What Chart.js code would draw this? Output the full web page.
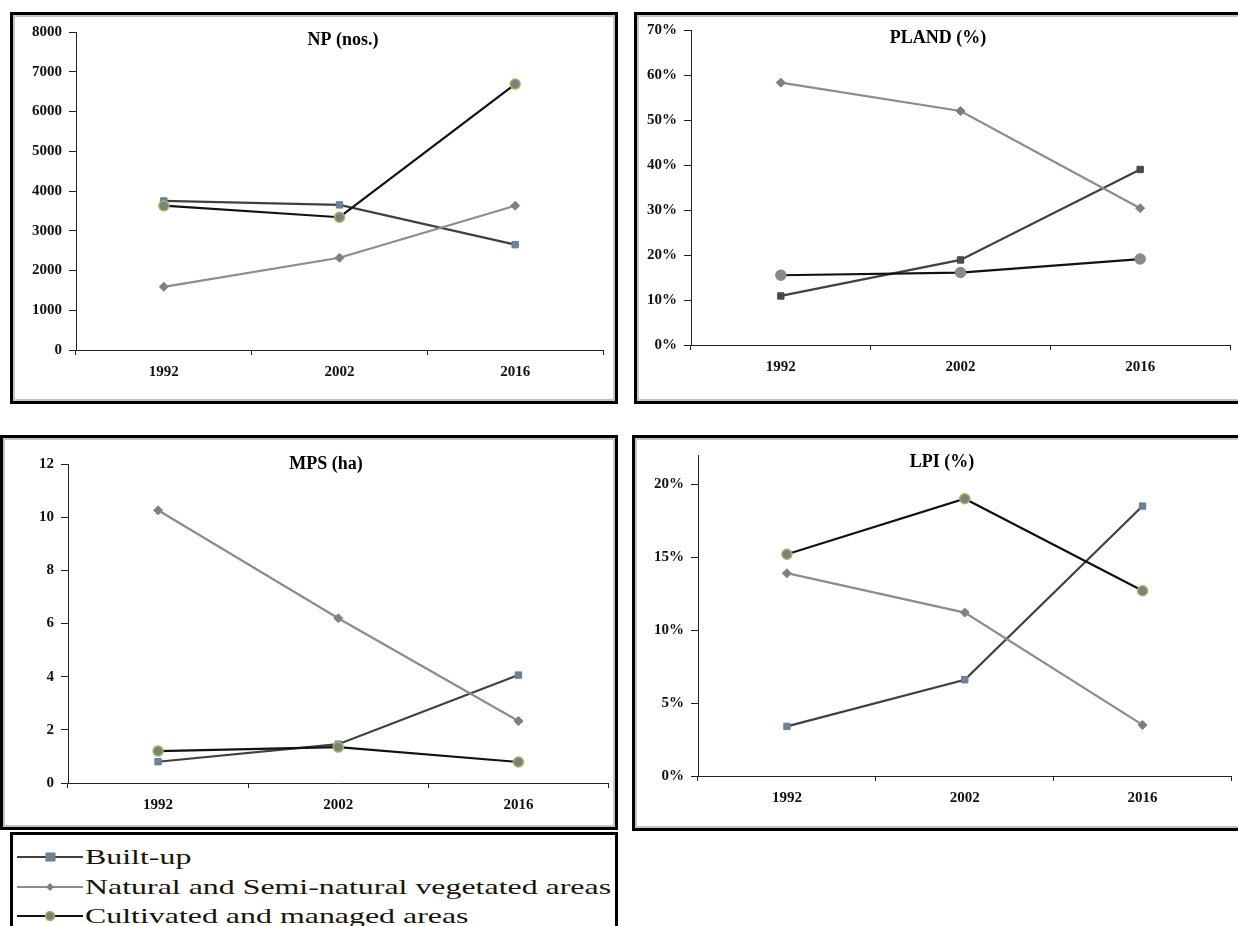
<!DOCTYPE html>
<html>
<head>
<meta charset="utf-8">
<script src="https://cdn.jsdelivr.net/npm/chart.js@4.4.1/dist/chart.umd.min.js"></script>
<style>
  body { margin: 0; background: #fff; width: 1238px; height: 926px; overflow: hidden; position: relative; }
  .panel { position: absolute; box-sizing: border-box; border: 3px solid #000; box-shadow: inset 0 0 0 2px #c4c4c4; pointer-events: none; }
  canvas { position: absolute; }
  #legendBox { position: absolute; left: 10px; top: 832px; width: 608px; height: 110px; box-sizing: border-box;
    border: 3px solid #000; border-bottom: none; }
  .row { position: absolute; left: 4px; height: 26px; display: flex; align-items: center; }
  .row svg { flex: none; }
  .row span { font-family: "Liberation Serif", serif; font-size: 22px; color: #1a1408; white-space: nowrap;
    display: inline-block; transform: scaleX(1.45); transform-origin: left center; margin-left: 2px; }
</style>
</head>
<body>
<div class="panel" style="left:10px;top:12px;width:608px;height:392px"></div>
<div class="panel" style="left:634px;top:12px;width:620px;height:392px"></div>
<div class="panel" style="left:0px;top:435px;width:618px;height:395px"></div>
<div class="panel" style="left:632px;top:435px;width:620px;height:396px"></div>

<canvas id="np" width="602" height="386" style="left:13px;top:15px"></canvas>
<canvas id="pland" width="601" height="386" style="left:637px;top:15px"></canvas>
<canvas id="mps" width="612" height="389" style="left:3px;top:438px"></canvas>
<canvas id="lpi" width="603" height="390" style="left:635px;top:438px"></canvas>

<div id="legendBox">
  <div class="row" style="top:9px">
    <svg width="66" height="14"><line x1="0" y1="7" x2="66" y2="7" stroke="#404040" stroke-width="2"/>
      <rect x="29" y="3" width="9" height="8" fill="#7f7f7f" stroke="#4f81bd" stroke-width="1"/></svg>
    <span>Built-up</span>
  </div>
  <div class="row" style="top:39px">
    <svg width="66" height="14"><line x1="0" y1="7" x2="66" y2="7" stroke="#8c8c8c" stroke-width="2"/>
      <polygon points="33,3 37,7 33,11 29,7" fill="#808080"/></svg>
    <span>Natural and Semi-natural vegetated areas</span>
  </div>
  <div class="row" style="top:68px">
    <svg width="66" height="14"><line x1="0" y1="7" x2="66" y2="7" stroke="#111" stroke-width="2"/>
      <circle cx="33" cy="7" r="4.5" fill="#7f7f7f" stroke="#9bbb59" stroke-width="1.5"/></svg>
    <span>Cultivated and managed areas</span>
  </div>
</div>

<script>
const years = ["1992", "2002", "2016"];

const npBuilt = [3750, 3650, 2650];
const npNatural = [1590, 2320, 3630];
const npCultivated = [3630, 3340, 6690];

const plandBuilt = [10.9, 18.9, 39.0];
const plandNatural = [58.3, 52.0, 30.4];
const plandCultivated = [15.5, 16.1, 19.1];

const mpsBuilt = [0.8, 1.46, 4.06];
const mpsNatural = [10.26, 6.2, 2.33];
const mpsCultivated = [1.2, 1.35, 0.79];

const lpiBuilt = [3.4, 6.6, 18.5];
const lpiNatural = [13.9, 11.2, 3.5];
const lpiCultivated = [15.2, 19.0, 12.7];

const tickFont = { family: "Liberation Serif", size: 15, weight: "bold" };

// draws the heading inside the plot, like the original sheets
const panelTitle = {
    id: "panelTitle",
    afterDraw: function (chart, args, opts) {
        const ctx = chart.ctx;
        ctx.save();
        ctx.font = 'bold 18px "Liberation Serif"';
        ctx.fillStyle = "#000";
        ctx.textAlign = "center";
        ctx.textBaseline = "middle";
        ctx.fillText(opts.text, opts.x, opts.y);
        ctx.restore();
    },
};

function makeChart(id, series, cfg) {
    const greyMarks = cfg.greyMarks;
    const ctx = document.getElementById(id).getContext("2d");
    return new Chart(ctx, {
        type: "line",
        data: {
            labels: years,
            datasets: [
                {
                    label: "Built-up",
                    data: series[0],
                    borderColor: "#404040",
                    borderWidth: 2.2,
                    pointStyle: "rect",
                    pointRadius: 4.5,
                    pointBackgroundColor: greyMarks ? "#4a4a4a" : "#7f7f7f",
                    pointBorderColor: greyMarks ? "#4a4a4a" : "#4f81bd",
                    pointBorderWidth: 1,
                    order: 2,
                },
                {
                    label: "Natural and Semi-natural vegetated areas",
                    data: series[1],
                    borderColor: "#8c8c8c",
                    borderWidth: 2.2,
                    pointStyle: "rectRot",
                    pointRadius: 4.5,
                    pointBackgroundColor: "#808080",
                    pointBorderColor: "#808080",
                    pointBorderWidth: 1,
                    order: 1,
                },
                {
                    label: "Cultivated and managed areas",
                    data: series[2],
                    borderColor: "#111111",
                    borderWidth: 2.2,
                    pointStyle: "circle",
                    pointRadius: 5,
                    pointBackgroundColor: greyMarks ? "#8a8a8a" : "#7f7f7f",
                    pointBorderColor: greyMarks ? "#8a8a8a" : "#9bbb59",
                    pointBorderWidth: 1.5,
                    order: 0,
                },
            ],
        },
        options: {
            responsive: false,
            animation: false,
            devicePixelRatio: 1,
            layout: { padding: cfg.padding },
            plugins: {
                legend: { display: false },
                tooltip: { enabled: false },
                panelTitle: cfg.title,
            },
            scales: {
                x: {
                    type: "category",
                    offset: true,
                    grid: { offset: true, drawOnChartArea: false, tickLength: 5, color: "#222" },
                    border: { color: "#222", width: 1 },
                    ticks: { font: tickFont, color: "#111", padding: 8, maxRotation: 0 },
                    afterFit: function (s) {
                        s.height = 40;
                        s.paddingLeft = 0;
                        s.paddingRight = 0;
                    },
                },
                y: {
                    min: 0,
                    max: cfg.max,
                    grid: { drawOnChartArea: false, tickLength: 7, color: "#222" },
                    border: { color: "#222", width: 1 },
                    ticks: {
                        stepSize: cfg.step,
                        font: tickFont,
                        color: "#111",
                        padding: 7,
                        callback: function (v) {
                            return v + cfg.unit;
                        },
                    },
                    afterBuildTicks: function (s) {
                        s.ticks = s.ticks.filter(function (t) {
                            return Math.abs(t.value / cfg.step - Math.round(t.value / cfg.step)) < 1e-6;
                        });
                    },
                    afterFit: function (s) {
                        s.width = cfg.axisLeft;
                        s.paddingTop = 0;
                        s.paddingBottom = 0;
                    },
                },
            },
        },
        plugins: [panelTitle],
    });
}

makeChart("np", [npBuilt, npNatural, npCultivated], {
    max: 8000, step: 1000, unit: "", axisLeft: 63,
    padding: { left: 0, top: 17, right: 12, bottom: 11 },
    title: { text: "NP (nos.)", x: 330, y: 25 },
});

makeChart("pland", [plandBuilt, plandNatural, plandCultivated], {
    max: 70, step: 10, unit: "%", axisLeft: 54, greyMarks: true,
    padding: { left: 0, top: 15, right: 8, bottom: 16 },
    title: { text: "PLAND (%)", x: 301, y: 23 },
});

makeChart("mps", [mpsBuilt, mpsNatural, mpsCultivated], {
    max: 12, step: 2, unit: "", axisLeft: 65,
    padding: { left: 0, top: 26, right: 1, bottom: 4 },
    title: { text: "MPS (ha)", x: 323, y: 26 },
});

makeChart("lpi", [lpiBuilt, lpiNatural, lpiCultivated], {
    max: 22, step: 5, unit: "%", axisLeft: 63,
    padding: { left: 0, top: 17, right: 3, bottom: 12 },
    title: { text: "LPI (%)", x: 307, y: 24 },
});
</script>
</body>
</html>
